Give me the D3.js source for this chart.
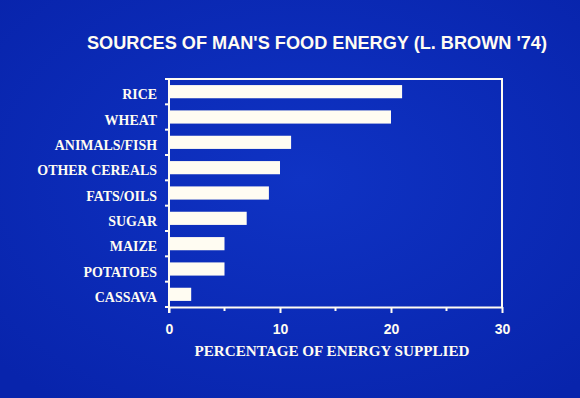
<!DOCTYPE html>
<html>
<head>
<meta charset="utf-8">
<script src="https://cdn.jsdelivr.net/npm/d3@7"></script>
<style>
  html, body { margin: 0; padding: 0; background: #0b2cb8; }
  svg { display: block; }
</style>
</head>
<body>
<svg id="chart" width="580" height="398"></svg>
<script>
// data
const foods = ["RICE", "WHEAT", "ANIMALS/FISH", "OTHER CEREALS", "FATS/OILS", "SUGAR", "MAIZE", "POTATOES", "CASSAVA"];
const energyPct = [21, 20, 11, 10, 9, 7, 5, 5, 2];
const xTicks = [0, 10, 20, 30];
const xMinorTicks = [5, 15, 25];
const title = "SOURCES OF MAN'S FOOD ENERGY (L. BROWN '74)";
const xTitle = "PERCENTAGE OF ENERGY SUPPLIED";

const W = 580, H = 398;
const M = {top: 79, right: 78, bottom: 91, left: 169}; // plot box 169..502 x 79..307
const ink = "#fffcf2";
const sans = "'Liberation Sans', Arial, sans-serif";
const serif = "'Liberation Serif', 'Times New Roman', serif";

const svg = d3.select("#chart");

// slide background, a bit brighter in the middle like the projected photo
const grad = svg.append("defs").append("radialGradient")
    .attr("id", "bg").attr("cx", "52%").attr("cy", "45%").attr("r", "70%");
grad.append("stop").attr("offset", "0%").attr("stop-color", "#0f33c4");
grad.append("stop").attr("offset", "100%").attr("stop-color", "#0824ac");
svg.append("rect").attr("width", W).attr("height", H).attr("fill", "url(#bg)");

const x = d3.scaleLinear()
    .domain([0, 30])
    .range([M.left, W - M.right]);

const y = d3.scaleBand()
    .domain(foods)
    .range([M.top, H - M.bottom])
    .paddingInner(0.48)
    .paddingOuter(0.24);

// bars
svg.append("g")
  .selectAll("rect")
  .data(foods)
  .join("rect")
    .attr("x", x(0))
    .attr("y", d => y(d))
    .attr("width", (d, i) => x(energyPct[i]) - x(0))
    .attr("height", y.bandwidth())
    .attr("fill", ink);

// frame: top and right sides
const frame = svg.append("g").attr("stroke", ink).attr("stroke-width", 2).attr("fill", "none");
frame.append("path")
    .attr("d", `M${x(0)},${M.top}H${x(30)}V${H - M.bottom}`);

// x axis, ticks pointing down, labels bold sans
const xAxis = svg.append("g")
    .attr("transform", `translate(0,${H - M.bottom})`)
    .call(d3.axisBottom(x).tickValues(xTicks).tickSize(6).tickPadding(11).tickSizeOuter(0));
xAxis.select(".domain").attr("stroke", ink).attr("stroke-width", 2);
xAxis.selectAll(".tick line").attr("stroke", ink).attr("stroke-width", 2);
xAxis.selectAll(".tick text")
    .attr("fill", ink)
    .style("font-family", sans)
    .style("font-weight", "bold")
    .style("font-size", "14px");
xAxis.selectAll(".minor")
  .data(xMinorTicks)
  .join("line")
    .attr("class", "minor")
    .attr("x1", d => x(d)).attr("x2", d => x(d))
    .attr("y1", 0).attr("y2", 4)
    .attr("stroke", ink).attr("stroke-width", 2);

// y axis: labels on the bands, ticks on the band boundaries
// slide lettering is tall and narrow, so squeeze the serif a little
const yAxis = svg.append("g")
    .attr("transform", `translate(${x(0)},0)`)
    .call(d3.axisLeft(y).tickSize(0).tickPadding(12));
yAxis.select(".domain").remove();
yAxis.selectAll(".tick text")
    .attr("fill", ink)
    .attr("x", -12 / 0.9)
    .attr("dy", "0.5em")
    .attr("transform", "scale(0.9,1)")
    .style("font-family", serif)
    .style("font-weight", "bold")
    .style("font-size", "15.5px");
yAxis.append("line")
    .attr("y1", M.top - 1).attr("y2", H - M.bottom + 6)
    .attr("stroke", ink).attr("stroke-width", 2);
yAxis.selectAll(".bound")
  .data(d3.range(foods.length + 1))
  .join("line")
    .attr("class", "bound")
    .attr("x1", -4).attr("x2", 0)
    .attr("y1", i => M.top + i * y.step())
    .attr("y2", i => M.top + i * y.step())
    .attr("stroke", ink).attr("stroke-width", 2);

// titles
svg.append("text")
    .attr("x", 87).attr("y", 49)
    .attr("fill", ink)
    .style("font-family", sans)
    .style("font-weight", "bold")
    .style("font-size", "18px")
    .attr("textLength", 460)
    .attr("lengthAdjust", "spacingAndGlyphs")
    .text(title);

svg.append("text")
    .attr("x", 332).attr("y", 356)
    .attr("text-anchor", "middle")
    .attr("fill", ink)
    .style("font-family", serif)
    .style("font-weight", "bold")
    .style("font-size", "15px")
    .attr("textLength", 275)
    .attr("lengthAdjust", "spacingAndGlyphs")
    .text(xTitle);
</script>
</body>
</html>
